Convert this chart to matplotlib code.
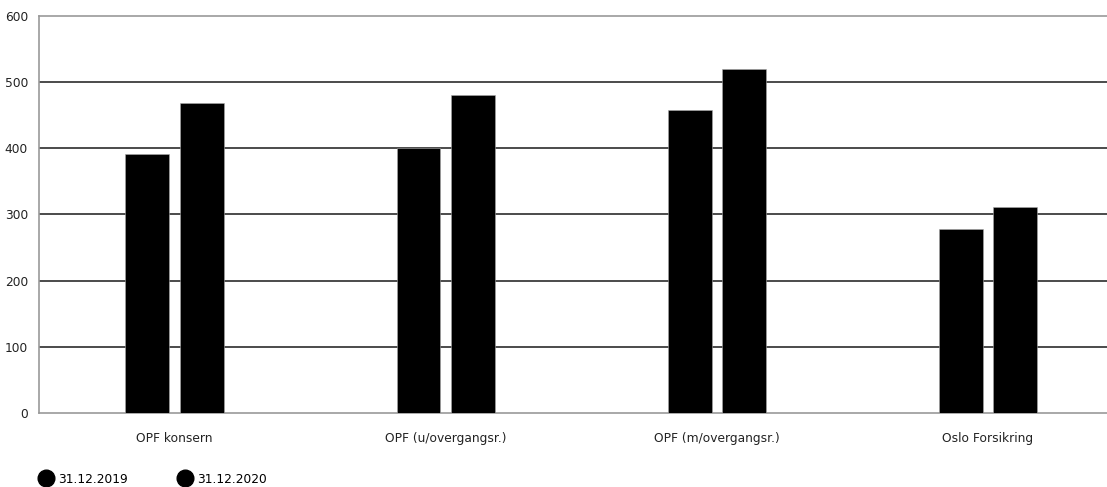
import numpy as np
import matplotlib.pyplot as plt
from matplotlib.lines import Line2D

plt.rcParams['font.family'] = ['DejaVu Sans']

# Data
categories = ["OPF konsern", "OPF (u/overgangsr.)", "OPF (m/overgangsr.)", "Oslo Forsikring"]
series_names = ["31.12.2019", "31.12.2020"]
values_2019 = [392, 400, 458, 278]
values_2020 = [469, 481, 520, 311]
y_ticks = [0, 100, 200, 300, 400, 500, 600]

fig = plt.figure(figsize=(11.07, 4.87), dpi=100)
ax = fig.add_axes([39 / 1107, 74 / 487, 1 - 39 / 1107, 397 / 487])

x = np.arange(len(categories))
w = 0.162
off = 0.1
ax.bar(x - off, values_2019, width=w, color="black", edgecolor="#aaaaaa", linewidth=0.4, zorder=3)
ax.bar(x + off, values_2020, width=w, color="black", edgecolor="#aaaaaa", linewidth=0.4, zorder=3)

ax.set_ylim(0, 600)
ax.set_xlim(-0.5, 3.44)
ax.set_yticks(y_ticks)
ax.set_xticks(x)
ax.set_xticklabels(categories)
ax.tick_params(length=0, labelsize=8.8, colors="#222222")
ax.tick_params(axis="y", pad=8)
ax.tick_params(axis="x", pad=14)

for v in y_ticks[1:-1]:
    ax.axhline(v, color="#1a1a1a", linewidth=1.1, zorder=2)

for s in ["left", "top", "bottom"]:
    ax.spines[s].set_color("#999999")
    ax.spines[s].set_linewidth(1.2)
ax.spines["right"].set_visible(False)

handles = [Line2D([], [], marker="o", linestyle="", color="black", markersize=12) for _ in series_names]
fig.legend(handles, series_names, loc="lower left", bbox_to_anchor=(0.026, -0.02),
           ncol=2, frameon=False, fontsize=8.8, handletextpad=0.5, columnspacing=4.2,
           handlelength=1.0)

fig.savefig("out.png", dpi=100)
